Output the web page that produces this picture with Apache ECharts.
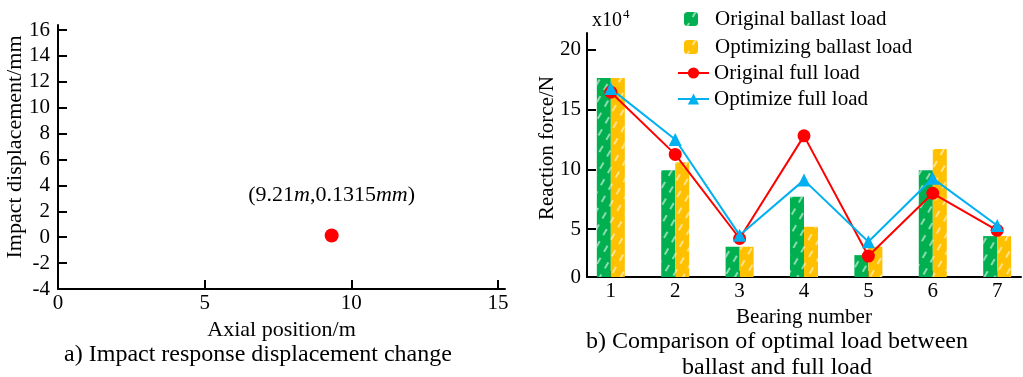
<!DOCTYPE html>
<html>
<head>
<meta charset="utf-8">
<script src="https://cdn.jsdelivr.net/npm/echarts@6/dist/echarts.min.js"></script>
<style>
  html, body { margin: 0; padding: 0; background: #fff; }
  #chart { width: 1023px; height: 377px; }
</style>
</head>
<body>
<div id="chart"></div>
<script>
// a) impact response
const impactPoint = [9.33, 0.1315];
const axialTicks = [0, 5, 10, 15];
const dispTicks = [-4, -2, 0, 2, 4, 6, 8, 10, 12, 14, 16];

// b) bearing reaction forces (x10^4 N)
const bearings = [1, 2, 3, 4, 5, 6, 7];
const originalBallast = [17.64, 9.92, 3.53, 7.7, 2.83, 9.92, 4.42];
const optimizingBallast = [17.64, 10.6, 3.53, 5.2, 3.53, 11.7, 4.42];
const originalFull = [16.45, 11.25, 4.22, 12.8, 2.75, 8.0, 4.9];
const optimizeFull = [16.75, 12.5, 4.5, 9.1, 3.95, 9.25, 5.3];
const forceTicks = [5, 10, 15, 20];
const FORCE_MIN = 1.0;

const FONT = '"Liberation Serif", "Times New Roman", serif';

const pairs = (xs, ys) => xs.map((x, i) => [x, ys[i]]);

const hatch = {
    symbol: 'rect',
    symbolSize: 1,
    color: 'rgba(255,255,255,0.55)',
    dashArrayX: [[7, 7]],
    dashArrayY: [2, 7],
    rotation: -Math.PI / 3
};

const axisLineStyle = { show: true, onZero: false, lineStyle: { color: '#000', width: 2 } };

const chart = echarts.init(document.getElementById('chart'), null, { renderer: 'canvas' });

const option = {
    backgroundColor: '#fff',
    animation: false,
    textStyle: { fontFamily: FONT, color: '#000' },
    grid: [
        { left: 58, top: 25, width: 447, height: 264 },
        { left: 587, top: 33, width: 434, height: 244 }
    ],
    legend: [
        {
            orient: 'vertical',
            left: 679,
            top: 3,
            itemWidth: 14,
            itemHeight: 14,
            itemGap: 6,
            data: ['Original ballast load', 'Optimizing ballast load'],
            textStyle: { fontFamily: FONT, fontSize: 21, lineHeight: 22, color: '#000', padding: [0, 0, 0, 12] }
        },
        {
            orient: 'vertical',
            left: 672,
            top: 57,
            itemWidth: 31,
            itemHeight: 14,
            itemGap: 4,
            data: ['Original full load', 'Optimize full load'],
            textStyle: { fontFamily: FONT, fontSize: 21, lineHeight: 22, color: '#000', padding: [0, 0, 0, 0] }
        }
    ],
    xAxis: [
        {
            gridIndex: 0,
            type: 'value',
            min: 0,
            max: 15.24,
            splitLine: { show: false },
            axisLine: axisLineStyle,
            axisTick: { show: true, inside: true, length: 9, lineStyle: { width: 2, color: '#000' }, customValues: axialTicks.slice(1) },
            axisLabel: { customValues: axialTicks, fontFamily: FONT, fontSize: 21, color: '#000', margin: 4 },
            name: 'Axial position/m',
            nameLocation: 'middle',
            nameGap: 26,
            nameTextStyle: { fontFamily: FONT, fontSize: 22, color: '#000' }
        },
        {
            gridIndex: 1,
            type: 'value',
            min: 0.63,
            max: 7.37,
            splitLine: { show: false },
            axisLine: axisLineStyle,
            axisTick: { show: true, inside: true, length: 6, lineStyle: { width: 2, color: '#000' }, customValues: bearings },
            axisLabel: { customValues: bearings, fontFamily: FONT, fontSize: 21, color: '#000', margin: 4 },
            name: 'Bearing number',
            nameLocation: 'middle',
            nameGap: 24,
            nameTextStyle: { fontFamily: FONT, fontSize: 21, color: '#000' }
        }
    ],
    yAxis: [
        {
            gridIndex: 0,
            type: 'value',
            min: -4,
            max: 16.39,
            splitLine: { show: false },
            axisLine: axisLineStyle,
            axisTick: { show: true, inside: true, length: 9, lineStyle: { width: 2, color: '#000' }, customValues: dispTicks.slice(1) },
            axisLabel: { customValues: dispTicks, fontFamily: FONT, fontSize: 21, color: '#000', margin: 8 }
        },
        {
            gridIndex: 1,
            type: 'value',
            min: FORCE_MIN,
            max: 21.4,
            splitLine: { show: false },
            axisLine: axisLineStyle,
            axisTick: { show: true, inside: true, length: 9, lineStyle: { width: 2, color: '#000' }, customValues: forceTicks },
            axisLabel: {
                customValues: [FORCE_MIN].concat(forceTicks),
                formatter: v => (v === FORCE_MIN ? '0' : String(v)),
                fontFamily: FONT, fontSize: 21, color: '#000', margin: 6
            }
        }
    ],
    graphic: [
        {
            type: 'text', left: 592, top: 8,
            style: {
                text: '{a|x10}{s|4}',
                rich: {
                    a: { fontFamily: FONT, fontSize: 20, fill: '#000', verticalAlign: 'bottom' },
                    s: { fontFamily: FONT, fontSize: 13, fill: '#000', verticalAlign: 'top', padding: [0, 0, 10, 1] }
                }
            }
        },
        {
            type: 'text', x: 15, y: 147, rotation: Math.PI / 2,
            style: { text: 'Impact displacement/mm', fontFamily: FONT, fontSize: 22, fill: '#000', align: 'center', verticalAlign: 'middle' }
        },
        {
            type: 'text', x: 547, y: 148, rotation: Math.PI / 2,
            style: { text: 'Reaction force/N', fontFamily: FONT, fontSize: 21, fill: '#000', align: 'center', verticalAlign: 'middle' }
        },
        {
            type: 'text', x: 258, y: 355,
            style: { text: 'a) Impact response displacement change', fontFamily: FONT, fontSize: 24, fill: '#000', align: 'center', verticalAlign: 'middle' }
        },
        {
            type: 'text', x: 777, y: 342,
            style: { text: 'b) Comparison of optimal load between', fontFamily: FONT, fontSize: 24, fill: '#000', align: 'center', verticalAlign: 'middle' }
        },
        {
            type: 'text', x: 777, y: 368,
            style: { text: 'ballast and full load', fontFamily: FONT, fontSize: 24, fill: '#000', align: 'center', verticalAlign: 'middle' }
        }
    ],
    series: [
        {
            type: 'scatter',
            xAxisIndex: 0,
            yAxisIndex: 0,
            symbolSize: 14,
            itemStyle: { color: '#FF0000', opacity: 1 },
            data: [impactPoint],
            label: {
                show: true,
                position: 'top',
                distance: 22,
                formatter: '{n|(9.21}{i|m}{n|,0.1315}{i|mm}{n|)}',
                rich: {
                    n: { fontFamily: FONT, fontSize: 22, color: '#000' },
                    i: { fontFamily: FONT, fontSize: 22, color: '#000', fontStyle: 'italic' }
                }
            }
        },
        {
            name: 'Original ballast load',
            type: 'bar',
            xAxisIndex: 1,
            yAxisIndex: 1,
            barWidth: 14,
            barGap: '0%',
            itemStyle: { color: '#00B050', decal: hatch },
            data: pairs(bearings, originalBallast)
        },
        {
            name: 'Optimizing ballast load',
            type: 'bar',
            xAxisIndex: 1,
            yAxisIndex: 1,
            barWidth: 14,
            barGap: '0%',
            itemStyle: { color: '#FFC000', decal: hatch },
            data: pairs(bearings, optimizingBallast)
        },
        {
            name: 'Original full load',
            type: 'line',
            xAxisIndex: 1,
            yAxisIndex: 1,
            symbol: 'circle',
            symbolSize: 13,
            lineStyle: { color: '#FF0000', width: 2 },
            itemStyle: { color: '#FF0000' },
            data: pairs(bearings, originalFull)
        },
        {
            name: 'Optimize full load',
            type: 'line',
            xAxisIndex: 1,
            yAxisIndex: 1,
            symbol: 'triangle',
            symbolSize: 13,
            lineStyle: { color: '#00B0F0', width: 2 },
            itemStyle: { color: '#00B0F0' },
            data: pairs(bearings, optimizeFull)
        }
    ]
};

chart.setOption(option);
window.addEventListener('resize', chart.resize);
</script>
</body>
</html>
